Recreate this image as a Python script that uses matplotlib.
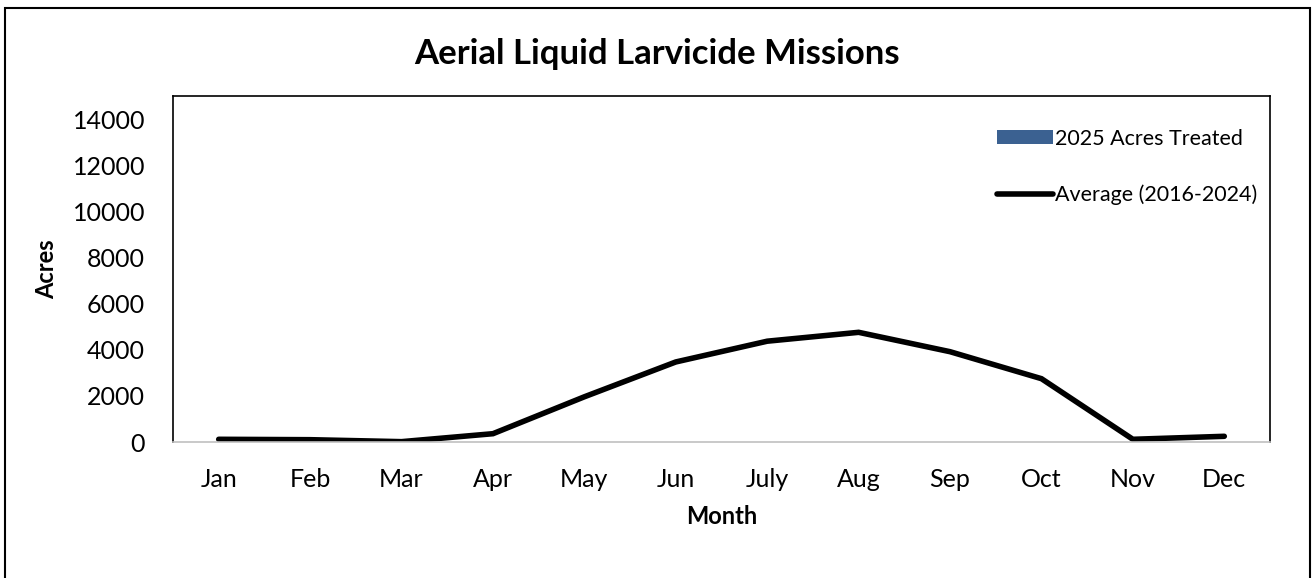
import matplotlib
matplotlib.use('Agg')
import matplotlib.pyplot as plt
from matplotlib.patches import Rectangle

months = ['Jan', 'Feb', 'Mar', 'Apr', 'May', 'Jun', 'July', 'Aug', 'Sep', 'Oct', 'Nov', 'Dec']
acres_2025 = [0, 0, 0, 0, 0, 0, 0, 0, 0, 0, 0, 0]
average_2016_2024 = [117, 100, 15, 360, 1960, 3470, 4370, 4755, 3915, 2745, 117, 247]
y_ticks = [0, 2000, 4000, 6000, 8000, 10000, 12000, 14000]

plt.rcParams['font.family'] = ['Lato', 'DejaVu Sans']

W, H = 1312, 578
fig = plt.figure(figsize=(W / 100, H / 100), dpi=100)
ax = fig.add_axes([173 / W, (H - 442) / H, (1270 - 173) / W, (442 - 96) / H])

x = list(range(len(months)))
bars = ax.bar(x, acres_2025, width=0.6, color='#3b6191', label='2025 Acres Treated')
line, = ax.plot(x, average_2016_2024, color='black', linewidth=4, solid_capstyle='round',
                solid_joinstyle='miter', label='Average (2016-2024)')

ax.set_xlim(-0.5, 11.5)
ax.set_ylim(0, 15000)
ax.set_xticks(x)
ax.set_xticklabels(months)
ax.set_yticks(y_ticks)
ax.tick_params(axis='both', length=0, labelsize=18)
ax.tick_params(axis='x', pad=19)
ax.tick_params(axis='y', pad=20)

for side in ['top', 'left', 'right']:
    ax.spines[side].set_color('black')
    ax.spines[side].set_linewidth(1.2)
ax.spines['bottom'].set_color('#c0c0c0')
ax.spines['bottom'].set_linewidth(1.2)

ax.set_xlabel('Month', fontsize=17, fontweight='bold')
ax.set_ylabel('Acres', fontsize=17, fontweight='bold')
ax.xaxis.set_label_coords(0.5, (442 - 517) / 346, transform=ax.transAxes)
ax.yaxis.set_label_coords((47 - 173) / 1097, 0.5, transform=ax.transAxes)
ax.xaxis.label.set_va('center')
ax.yaxis.label.set_va('center')

fig.text(657 / W, 1 - 54 / H, 'Aerial Liquid Larvicide Missions', fontsize=25,
         fontweight='bold', ha='center', va='center')

ax.legend([bars, line], ['2025 Acres Treated', 'Average (2016-2024)'],
          loc='upper left', bbox_to_anchor=(986 / W, 1 - 118 / H), bbox_transform=fig.transFigure,
          frameon=False, fontsize=15.5, handlelength=2.6, handleheight=0.65, handletextpad=0.1,
          labelspacing=1.65, borderpad=0)

# chart area border (bottom edge lies outside the picture)
fig.patches.append(Rectangle((5 / W, -0.05), (1310 - 5) / W, 1.05 - 8 / H,
                             transform=fig.transFigure, fill=False, edgecolor='black', linewidth=1.5))

plt.savefig('out.png', dpi=100)
